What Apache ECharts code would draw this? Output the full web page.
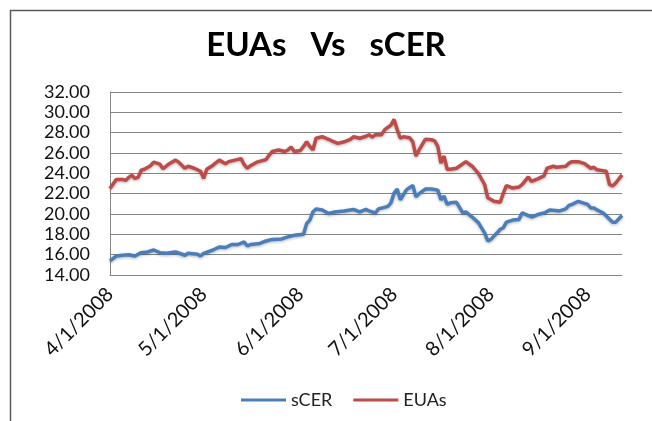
<!DOCTYPE html>
<html>
<head>
<meta charset="utf-8">
<script src="https://cdn.jsdelivr.net/npm/echarts@6/dist/echarts.min.js"></script>
<style>
  html, body { margin: 0; padding: 0; background: #fff; }
  #chart { width: 652px; height: 421px; }
</style>
</head>
<body>
<div id="chart"></div>
<script>
// sCER prices
var scerDates = [
  '2008-04-01', '2008-04-03', '2008-04-05', '2008-04-07', '2008-04-09', '2008-04-11', '2008-04-13',
  '2008-04-15', '2008-04-17', '2008-04-19', '2008-04-22', '2008-04-25', '2008-04-26', '2008-04-29',
  '2008-04-30', '2008-05-01', '2008-05-04', '2008-05-06', '2008-05-08', '2008-05-10', '2008-05-12',
  '2008-05-14', '2008-05-15', '2008-05-16', '2008-05-19', '2008-05-21', '2008-05-23', '2008-05-26',
  '2008-05-28', '2008-05-30', '2008-06-02', '2008-06-03', '2008-06-04', '2008-06-05', '2008-06-06',
  '2008-06-08', '2008-06-10', '2008-06-12', '2008-06-15', '2008-06-18', '2008-06-20', '2008-06-22',
  '2008-06-23', '2008-06-25', '2008-06-26', '2008-06-29', '2008-06-30', '2008-07-01', '2008-07-02',
  '2008-07-03', '2008-07-04', '2008-07-05', '2008-07-07', '2008-07-08', '2008-07-09', '2008-07-11',
  '2008-07-13', '2008-07-15', '2008-07-16', '2008-07-17', '2008-07-18', '2008-07-19', '2008-07-21',
  '2008-07-23', '2008-07-24', '2008-07-26', '2008-07-28', '2008-07-30', '2008-07-31', '2008-08-01',
  '2008-08-03', '2008-08-04', '2008-08-05', '2008-08-06', '2008-08-08', '2008-08-10', '2008-08-11',
  '2008-08-13', '2008-08-14', '2008-08-16', '2008-08-18', '2008-08-20', '2008-08-23', '2008-08-25',
  '2008-08-26', '2008-08-27', '2008-08-29', '2008-08-30', '2008-09-01', '2008-09-02', '2008-09-03',
  '2008-09-04', '2008-09-06', '2008-09-07', '2008-09-09', '2008-09-10', '2008-09-12'
];
var scerValues = [
  15.40, 15.87, 15.94, 16.00, 15.87, 16.20, 16.26,
  16.46, 16.20, 16.13, 16.26, 15.94, 16.13, 16.04,
  15.87, 16.13, 16.46, 16.75, 16.70, 17.00, 17.00,
  17.25, 16.85, 17.00, 17.10, 17.35, 17.50, 17.55,
  17.75, 17.90, 18.00, 19.07, 19.40, 20.20, 20.50,
  20.40, 20.05, 20.20, 20.30, 20.45, 20.20, 20.45,
  20.30, 20.10, 20.50, 20.75, 21.10, 22.05, 22.45,
  21.40, 21.90, 22.40, 22.80, 21.70, 22.00, 22.45,
  22.45, 22.35, 21.40, 21.75, 20.95, 21.10, 21.15,
  20.10, 20.20, 19.70, 19.15, 18.15, 17.35, 17.50,
  18.15, 18.50, 18.65, 19.20, 19.40, 19.45, 20.10,
  19.85, 19.70, 19.95, 20.10, 20.40, 20.30, 20.50,
  20.85, 20.95, 21.25, 21.15, 20.95, 20.60, 20.60,
  20.40, 20.10, 19.80, 19.20, 19.20, 19.85
];

// EUA prices
var euaDates = [
  '2008-04-01', '2008-04-03', '2008-04-05', '2008-04-06', '2008-04-07', '2008-04-08', '2008-04-09',
  '2008-04-10', '2008-04-11', '2008-04-12', '2008-04-14', '2008-04-15', '2008-04-17', '2008-04-18',
  '2008-04-20', '2008-04-22', '2008-04-23', '2008-04-25', '2008-04-26', '2008-04-28', '2008-04-30',
  '2008-05-01', '2008-05-02', '2008-05-04', '2008-05-06', '2008-05-08', '2008-05-09', '2008-05-11',
  '2008-05-13', '2008-05-14', '2008-05-15', '2008-05-16', '2008-05-18', '2008-05-21', '2008-05-22',
  '2008-05-23', '2008-05-25', '2008-05-27', '2008-05-28', '2008-05-29', '2008-05-30', '2008-06-01',
  '2008-06-02', '2008-06-03', '2008-06-04', '2008-06-05', '2008-06-06', '2008-06-08', '2008-06-10',
  '2008-06-11', '2008-06-13', '2008-06-15', '2008-06-17', '2008-06-18', '2008-06-20', '2008-06-22',
  '2008-06-23', '2008-06-24', '2008-06-25', '2008-06-27', '2008-06-28', '2008-06-30', '2008-07-01',
  '2008-07-02', '2008-07-03', '2008-07-04', '2008-07-06', '2008-07-07', '2008-07-08', '2008-07-09',
  '2008-07-11', '2008-07-13', '2008-07-14', '2008-07-15', '2008-07-16', '2008-07-17', '2008-07-18',
  '2008-07-19', '2008-07-21', '2008-07-24', '2008-07-26', '2008-07-28', '2008-07-30', '2008-07-31',
  '2008-08-02', '2008-08-04', '2008-08-05', '2008-08-06', '2008-08-08', '2008-08-10', '2008-08-11',
  '2008-08-13', '2008-08-14', '2008-08-16', '2008-08-18', '2008-08-19', '2008-08-21', '2008-08-22',
  '2008-08-25', '2008-08-26', '2008-08-27', '2008-08-29', '2008-08-31', '2008-09-02', '2008-09-03',
  '2008-09-04', '2008-09-05', '2008-09-07', '2008-09-08', '2008-09-09', '2008-09-10', '2008-09-12'
];
var euaValues = [
  22.50, 23.40, 23.40, 23.30, 23.60, 23.80, 23.50,
  23.60, 24.30, 24.40, 24.75, 25.10, 24.90, 24.45,
  24.95, 25.30, 25.10, 24.50, 24.70, 24.50, 24.20,
  23.50, 24.40, 24.80, 25.30, 24.95, 25.15, 25.30,
  25.45, 24.85, 24.50, 24.75, 25.10, 25.35, 25.80,
  26.15, 26.30, 26.15, 26.30, 26.60, 26.15, 26.25,
  26.65, 27.10, 26.65, 26.30, 27.45, 27.60, 27.35,
  27.20, 26.95, 27.10, 27.35, 27.60, 27.45, 27.65,
  27.80, 27.55, 27.80, 27.80, 28.30, 28.75, 29.30,
  28.30, 27.45, 27.60, 27.50, 27.10, 25.70, 26.30,
  27.35, 27.30, 27.20, 26.65, 25.00, 25.70, 24.40,
  24.40, 24.50, 25.15, 24.70, 24.00, 22.90, 21.60,
  21.25, 21.15, 22.05, 22.80, 22.55, 22.65, 22.90,
  23.65, 23.20, 23.45, 23.75, 24.50, 24.70, 24.60,
  24.70, 25.00, 25.15, 25.15, 24.95, 24.50, 24.60,
  24.35, 24.30, 24.20, 22.90, 22.75, 23.05, 23.85
];

// axis ranges
var xMin = '2008-04-01';
var xMax = '2008-09-12';
var yMin = 14;
var yMax = 32;
var yStep = 2;

var DAY = 86400000;

function pairs(dates, values) {
  return dates.map(function (d, i) { return [d, values[i]]; });
}

var font = 'Lato, "Open Sans", sans-serif';
var chart = echarts.init(document.getElementById('chart'));

chart.setOption({
  animation: false,
  backgroundColor: '#fff',
  textStyle: { fontFamily: font },
  graphic: [{
    type: 'rect',
    shape: { x: 10.5, y: 10.5, width: 700, height: 500 },
    style: { fill: 'none', stroke: '#5a5a5a', lineWidth: 1.5 },
    silent: true
  }],
  title: {
    text: 'EUAs   Vs   sCER',
    left: 'center',
    top: 24,
    textStyle: { fontFamily: font, fontWeight: 'bold', fontSize: 33, color: '#000' }
  },
  legend: {
    bottom: 7,
    left: 236,
    icon: 'rect',
    itemWidth: 45,
    itemHeight: 3,
    itemGap: 21,
    textStyle: { fontFamily: font, fontSize: 18, color: '#222' },
    data: ['sCER', 'EUAs']
  },
  grid: { left: 110, right: 30, top: 92, bottom: 146 },
  xAxis: {
    type: 'time',
    min: xMin,
    max: xMax,
    minInterval: 30 * DAY,
    splitNumber: 6,
    axisLine: { lineStyle: { color: '#868686', width: 1 } },
    axisTick: { show: false },
    splitLine: { show: false },
    axisLabel: {
      rotate: 45,
      margin: 16,
      fontSize: 20,
      color: '#111',
      fontFamily: font,
      showMinLabel: true,
      formatter: function (v) {
        var d = new Date(v);
        return (d.getMonth() + 1) + '/' + d.getDate() + '/' + d.getFullYear();
      }
    }
  },
  yAxis: {
    type: 'value',
    min: yMin,
    max: yMax,
    interval: yStep,
    axisLine: { show: true, lineStyle: { color: '#868686', width: 1 } },
    axisTick: { show: false },
    splitLine: { lineStyle: { color: '#868686', width: 1 } },
    axisLabel: {
      margin: 20,
      fontSize: 18,
      color: '#111',
      fontFamily: font,
      formatter: function (v) { return v.toFixed(2); }
    }
  },
  series: [
    {
      name: 'sCER',
      type: 'line',
      showSymbol: false,
      color: '#4A7EBB',
      lineStyle: { width: 3.5, color: '#4A7EBB', shadowColor: 'rgba(0,0,0,0.3)', shadowBlur: 3, shadowOffsetY: 1 },
      data: pairs(scerDates, scerValues)
    },
    {
      name: 'EUAs',
      type: 'line',
      showSymbol: false,
      color: '#BE4B48',
      lineStyle: { width: 3.5, color: '#BE4B48', shadowColor: 'rgba(0,0,0,0.3)', shadowBlur: 3, shadowOffsetY: 1 },
      data: pairs(euaDates, euaValues)
    }
  ]
});
</script>
</body>
</html>
